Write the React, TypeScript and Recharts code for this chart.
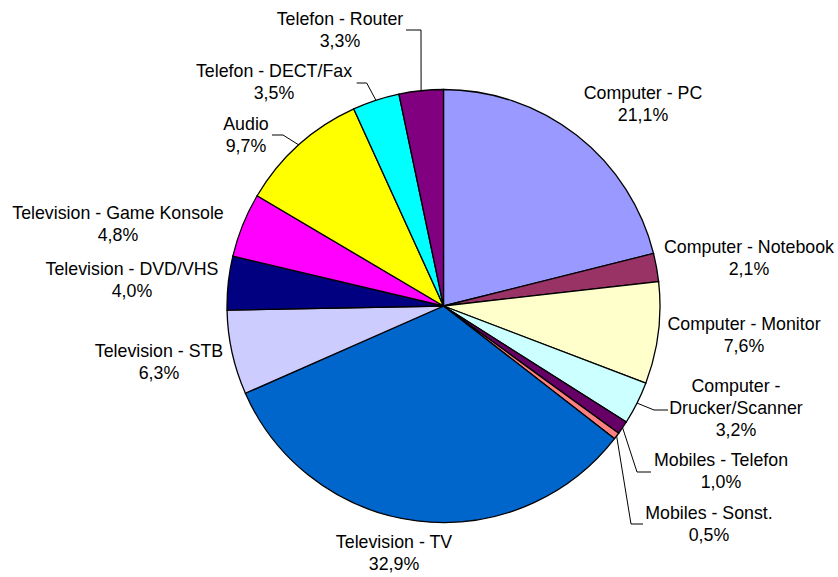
import React from 'react';
import { PieChart, Pie, Cell } from 'recharts';

const categories = [
  'Computer - PC',
  'Computer - Notebook',
  'Computer - Monitor',
  'Computer -\nDrucker/Scanner',
  'Mobiles - Telefon',
  'Mobiles - Sonst.',
  'Television - TV',
  'Television - STB',
  'Television - DVD/VHS',
  'Television - Game Konsole',
  'Audio',
  'Telefon - DECT/Fax',
  'Telefon - Router'
];

const shares = [21.1, 2.1, 7.6, 3.2, 1.0, 0.5, 32.9, 6.3, 4.0, 4.8, 9.7, 3.5, 3.3];

const colors = [
  '#9999FF', '#993366', '#FFFFCC', '#CCFFFF', '#660066', '#FF8080',
  '#0066CC', '#CCCCFF', '#000080', '#FF00FF', '#FFFF00', '#00FFFF', '#800080'
];

const data = categories.map((name, i) => ({ name, value: shares[i] }));

// label block position relative to pie centre (centre x, first baseline)
const labelPos: Array<[number, number]> = [
  [199.5, -207], [305.5, -53], [300.5, 24], [292.5, 86], [277.5, 160], [265.5, 213],
  [-49.5, 242], [-284.5, 51], [-311.5, -31], [-325.5, -87], [-197.5, -176],
  [-169.5, -229], [-103.5, -281]
];

// leader lines: elbow and end, relative to pie centre
const leaders: Record<number, Array<[number, number]>> = {
  3: [[210.5, 104], [224.5, 104]],
  4: [[193.5, 166], [207.5, 166]],
  5: [[187.5, 218], [199.5, 218]],
  10: [[-160.5, -171], [-171.5, -171]],
  11: [[-76.8, -223], [-86.8, -223]],
  12: [[-22.5, -276], [-37.5, -276]]
};

const RADIAN = Math.PI / 180;
const FONT = 'Arial, "Liberation Sans", sans-serif';

const renderLabel = (props: any) => {
  const { cx, cy, midAngle, outerRadius, index, name, value } = props;
  const [dx, dy] = labelPos[index];
  const lines = String(name).split('\n');
  lines.push(`${Number(value).toFixed(1).replace('.', ',')}%`);
  const lead = leaders[index];
  let path = null;
  if (lead) {
    const sx = cx + outerRadius * Math.cos(-midAngle * RADIAN);
    const sy = cy + outerRadius * Math.sin(-midAngle * RADIAN);
    const pts = [[sx, sy], ...lead.map(([x, y]) => [cx + x, cy + y])];
    path = <polyline points={pts.map(p => p.join(',')).join(' ')} fill="none" stroke="#000" strokeWidth={1} />;
  }
  return <g key={`label-${index}`}>
      {path}
      <text x={cx + dx} y={cy + dy} textAnchor="middle" fill="#000" fontSize={17.8} fontFamily={FONT}>
        {lines.map((line, i) => (
          <tspan key={i} x={cx + dx} dy={i === 0 ? 0 : 22}>{line}</tspan>
        ))}
      </text>
    </g>;
};

const App = () => {
  return <div style={{ position: 'absolute', left: 0, top: 0, width: 838, height: 577, background: '#fff' }}>
      <PieChart width={838} height={577} margin={{ top: 0, right: 0, bottom: 0, left: 0 }}>
        <Pie
          data={data}
          dataKey="value"
          nameKey="name"
          cx={443.5}
          cy={306}
          outerRadius={216.5}
          startAngle={90}
          endAngle={-270}
          stroke="#000"
          strokeWidth={1.3}
          labelLine={false}
          label={renderLabel}
          isAnimationActive={false}
        >
          {data.map((entry, index) => (
            <Cell key={`cell-${index}`} fill={colors[index]} />
          ))}
        </Pie>
      </PieChart>
    </div>;
};

export default App;
